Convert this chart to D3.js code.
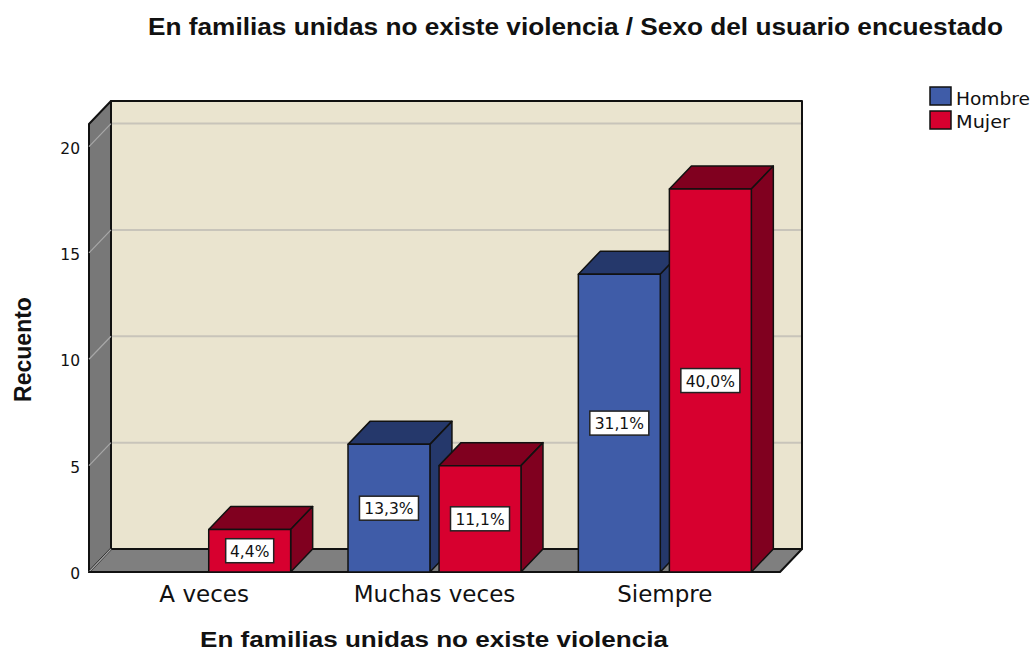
<!DOCTYPE html>
<html>
<head>
<meta charset="utf-8">
<script src="https://cdn.jsdelivr.net/npm/d3@7/dist/d3.min.js"></script>
<style>
html,body{margin:0;padding:0;background:#fff}
svg{display:block}
text{fill:#111}
</style>
</head>
<body>
<svg id="chart" width="1033" height="651"></svg>
<script>
const categories = ["A veces", "Muchas veces", "Siempre"];
const sexes = ["Hombre", "Mujer"];
const hombreValues = [0, 6, 14];
const mujerValues = [2, 5, 18];
const hombreLabels = ["", "13,3%", "31,1%"];
const mujerLabels = ["4,4%", "11,1%", "40,0%"];
const yTicks = [0, 5, 10, 15, 20];
const titleText = "En familias unidas no existe violencia / Sexo del usuario encuestado";
const xTitleText = "En familias unidas no existe violencia";
const yTitleText = "Recuento";

const faces = {
  Hombre: {front: "#3f5ca8", top: "#25386b", side: "#25386b"},
  Mujer: {front: "#d7002f", top: "#80001f", side: "#80001f"}
};
const dx = 22, dy = 23;
const frontLeft = 89, frontRight = 780, floorY = 572, topY = 124;

const svg = d3.select("#chart");
const y = d3.scaleLinear().domain([0, 21.06]).range([floorY, topY]);
const x0 = d3.scaleBand().domain(categories).range([frontLeft, frontRight]).paddingInner(0.249).paddingOuter(0.1245);
const x1 = d3.scaleBand().domain(sexes).range([0, x0.bandwidth()]).paddingInner(0.1);

const stroke = "#111";
const poly = (pts, fill, sw = 1.5, st = stroke) => svg.append("polygon")
  .attr("points", pts.map(p => p.join(",")).join(" "))
  .attr("fill", fill).attr("stroke", st).attr("stroke-width", sw).attr("stroke-linejoin", "round");

// walls
poly([[frontLeft + dx, topY - dy], [frontRight + dx, topY - dy], [frontRight + dx, floorY - dy], [frontLeft + dx, floorY - dy]], "#eae4cf", 2);
poly([[frontLeft, topY], [frontLeft + dx, topY - dy], [frontLeft + dx, floorY - dy], [frontLeft, floorY]], "#787878", 2);
poly([[frontLeft, floorY], [frontLeft + dx, floorY - dy], [frontRight + dx, floorY - dy], [frontRight, floorY]], "#7f7f7f", 2);

// gridlines
const gridVals = yTicks.filter(d => d > 0);
svg.append("g").selectAll("line").data(gridVals).join("line")
  .attr("x1", frontLeft + dx + 1).attr("x2", frontRight + dx - 1)
  .attr("y1", d => y(d) - dy).attr("y2", d => y(d) - dy)
  .attr("stroke", "#c8c4ba").attr("stroke-width", 2);
svg.append("g").selectAll("line").data(yTicks).join("line")
  .attr("x1", frontLeft).attr("x2", frontLeft + dx)
  .attr("y1", d => y(d)).attr("y2", d => y(d) - dy)
  .attr("stroke", "#a8a8a8").attr("stroke-width", 1.2);
// front floor edge
svg.append("line").attr("x1", frontLeft).attr("x2", frontRight)
  .attr("y1", floorY).attr("y2", floorY).attr("stroke", stroke).attr("stroke-width", 2);

// bars
const series = [
  {name: "Hombre", values: hombreValues, labels: hombreLabels},
  {name: "Mujer", values: mujerValues, labels: mujerLabels}
];
categories.forEach((c, i) => {
  series.forEach(s => {
    const v = s.values[i];
    if (!v) return;
    const l = x0(c) + x1(s.name), r = l + x1.bandwidth(), t = y(v), b = y(0), f = faces[s.name];
    poly([[l, t], [l + dx, t - dy], [r + dx, t - dy], [r, t]], f.top);
    poly([[r, t], [r + dx, t - dy], [r + dx, b - dy], [r, b]], f.side);
    poly([[l, t], [r, t], [r, b], [l, b]], f.front);
  });
});
// labels on top
categories.forEach((c, i) => {
  series.forEach(s => {
    if (!s.values[i]) return;
    const cx = x0(c) + x1(s.name) + x1.bandwidth() / 2;
    const cy = (y(s.values[i]) + y(0)) / 2;
    const w = s.labels[i].length > 4 ? 59 : 48;
    svg.append("rect").attr("x", cx - w / 2).attr("y", cy - 12).attr("width", w).attr("height", 24)
      .attr("fill", "#fff").attr("stroke", "#222").attr("stroke-width", 1.5);
    svg.append("text").attr("x", cx).attr("y", cy + 6).attr("text-anchor", "middle")
      .attr("font-family", "DejaVu Sans").attr("font-size", 15.5).text(s.labels[i]);
  });
});

// y axis
const yAxis = d3.axisLeft(y).tickValues(yTicks).tickSize(0).tickPadding(9);
const yg = svg.append("g").attr("transform", `translate(${frontLeft},1.5)`).call(yAxis);
yg.select(".domain").remove();
yg.selectAll("text").attr("font-family", "DejaVu Sans").attr("font-size", 15.5).attr("fill", "#111");

// x axis
const xAxis = d3.axisBottom(x0).tickSize(0).tickPadding(14);
const xg = svg.append("g").attr("transform", `translate(0,${floorY})`).call(xAxis);
xg.select(".domain").remove();
xg.selectAll("text").attr("font-family", "DejaVu Sans").attr("font-size", 23).attr("fill", "#333");

// titles
svg.append("text").attr("x", 148).attr("y", 35)
  .attr("textLength", 855).attr("lengthAdjust", "spacingAndGlyphs")
  .attr("font-family", "Liberation Sans").attr("font-weight", "bold").attr("font-size", 23).text(titleText);
svg.append("text").attr("x", 200).attr("y", 646.5)
  .attr("textLength", 468).attr("lengthAdjust", "spacingAndGlyphs")
  .attr("font-family", "Liberation Sans").attr("font-weight", "bold").attr("font-size", 22).text(xTitleText);
svg.append("text").attr("transform", "translate(31,349.5) rotate(-90)").attr("text-anchor", "middle")
  .attr("font-family", "Liberation Sans").attr("font-weight", "bold").attr("font-size", 23).text(yTitleText);

// legend
const legend = svg.append("g").selectAll("g").data(sexes).join("g")
  .attr("transform", (d, i) => `translate(930,${87 + i * 24})`);
legend.append("rect").attr("width", 21).attr("height", 18)
  .attr("fill", d => faces[d].front).attr("stroke", stroke).attr("stroke-width", 1.5);
legend.append("text").attr("x", 26).attr("y", (d, i) => i ? 16.5 : 17.5)
  .attr("textLength", (d, i) => i ? 54 : 74).attr("lengthAdjust", "spacingAndGlyphs")
  .attr("font-family", "DejaVu Sans").attr("font-size", 18).text(d => d);
</script>
</body>
</html>
